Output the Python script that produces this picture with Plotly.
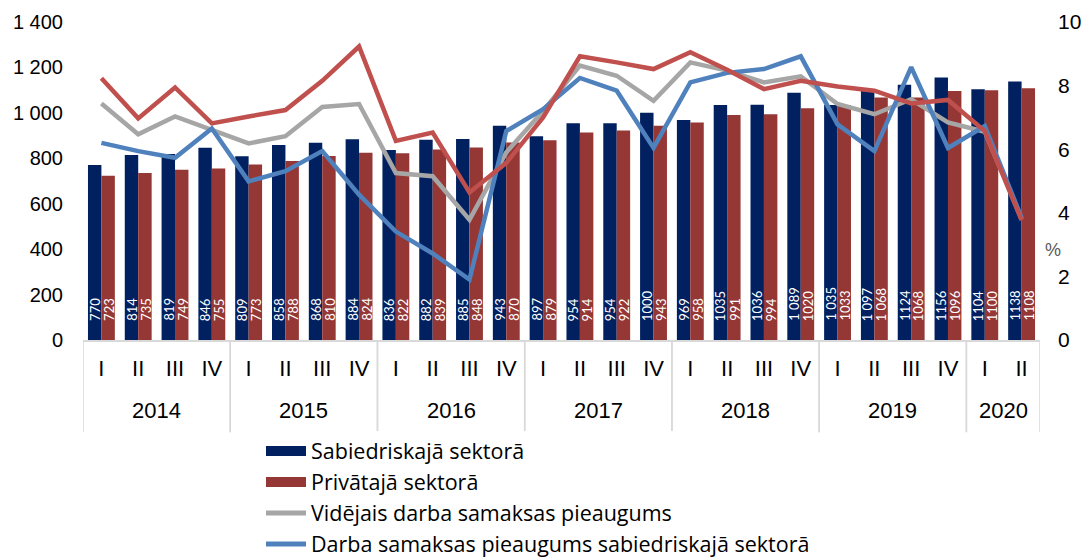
import plotly.graph_objects as go

years = ["2014"]*4 + ["2015"]*4 + ["2016"]*4 + ["2017"]*4 + ["2018"]*4 + ["2019"]*4 + ["2020"]*2
quarters = ["I", "II", "III", "IV"]*6 + ["I", "II"]

public_wage = [770, 814, 819, 846, 809, 858, 868, 884, 836, 882, 885, 943, 897, 954, 954, 1000,
               969, 1035, 1036, 1089, 1035, 1097, 1124, 1156, 1104, 1138]
private_wage = [723, 735, 749, 755, 773, 788, 810, 824, 822, 839, 848, 870, 879, 914, 922, 943,
                958, 991, 994, 1020, 1033, 1068, 1068, 1096, 1100, 1108]
public_labels = ["770", "814", "819", "846", "809", "858", "868", "884", "836", "882", "885", "943",
                 "897", "954", "954", "1000", "969", "1035", "1036", "1 089", "1 035", "1 097",
                 "1124", "1156", "1104", "1138"]
private_labels = ["723", "735", "749", "755", "773", "788", "810", "824", "822", "839", "848", "870",
                  "879", "914", "922", "943", "958", "991", "994", "1020", "1033", "1 068",
                  "1068", "1096", "1100", "1108"]

avg_growth = [7.44, 6.47, 7.03, 6.62, 6.18, 6.41, 7.33, 7.42, 5.25, 5.15, 3.78, 5.9, 7.2, 8.63,
              8.31, 7.52, 8.73, 8.47, 8.1, 8.29, 7.42, 7.1, 7.57, 6.84, 6.55, 3.8]
public_growth = [6.2, 5.94, 5.73, 6.65, 4.99, 5.31, 5.94, 4.57, 3.41, 2.72, 1.9, 6.57, 7.26, 8.24,
                 7.84, 6.04, 8.1, 8.4, 8.52, 8.92, 6.78, 5.94, 8.58, 6.04, 6.73, 3.84]
private_growth = [8.23, 6.97, 7.94, 6.81, 7.03, 7.23, 8.15, 9.23, 6.26, 6.52, 4.64, 5.57, 7.0, 8.92,
                  8.73, 8.52, 9.05, 8.5, 7.89, 8.15, 7.97, 7.84, 7.44, 7.55, 6.57, 3.77]

left_ticks = [0, 200, 400, 600, 800, 1000, 1200, 1400]
left_ticktext = ["0", "200", "400", "600", "800", "1 000", "1 200", "1 400"]
right_ticks = [0, 2, 4, 6, 8, 10]

NAVY = "#002060"
DRED = "#953735"
RED = "#c0504d"
GREY = "#a6a6a6"
BLUE = "#4f81bd"
AXISGREY = "#d9d9d9"

idx = list(range(len(quarters)))

fig = go.Figure()
fig.add_trace(go.Bar(x=idx, y=public_wage, name="Sabiedriskajā sektorā", marker_color=NAVY,
                     marker_line_width=0, showlegend=False))
fig.add_trace(go.Bar(x=idx, y=private_wage, name="Privātajā sektorā", marker_color=DRED,
                     marker_line_width=0, showlegend=False))
fig.add_trace(go.Scatter(x=idx, y=avg_growth, name="Vidējais darba samaksas pieaugums",
                         mode="lines", line=dict(color=GREY, width=4.5), yaxis="y2",
                         showlegend=False))
fig.add_trace(go.Scatter(x=idx, y=public_growth, name="Darba samaksas pieaugums sabiedriskajā sektorā",
                         mode="lines", line=dict(color=BLUE, width=4.5), yaxis="y2",
                         showlegend=False))
fig.add_trace(go.Scatter(x=idx, y=private_growth, name="Darba samaksas pieaugums privātajā sektorā",
                         mode="lines", line=dict(color=RED, width=4.5), yaxis="y2",
                         showlegend=False))

legend_items = [("Sabiedriskajā sektorā", NAVY, 14),
                ("Privātajā sektorā", DRED, 14),
                ("Vidējais darba samaksas pieaugums", GREY, 5),
                ("Darba samaksas pieaugums sabiedriskajā sektorā", BLUE, 5)]
for name, col, w in legend_items:
    fig.add_trace(go.Scatter(x=[None], y=[None], mode="lines", name=name,
                             line=dict(color=col, width=w), showlegend=True))

annotations = []
for i in idx:
    for lab, shift in ((public_labels[i], -7), (private_labels[i], 7)):
        annotations.append(dict(x=i, y=0, xref="x", yref="y", text=lab, textangle=-90,
                                showarrow=False, xanchor="center", yanchor="bottom",
                                xshift=shift, yshift=17,
                                font=dict(family="Lato", size=13, color="white")))

# year group labels and dividers
shapes = []
groups = []
for i, yv in enumerate(years):
    if not groups or groups[-1][0] != yv:
        groups.append([yv, i, i])
    else:
        groups[-1][2] = i
for yv, s, e in groups:
    annotations.append(dict(x=(s + e) / 2, y=-0.223, xref="x", yref="paper", text=yv,
                            showarrow=False, xanchor="center", yanchor="middle",
                            font=dict(family="Liberation Sans", size=22, color="black")))
    for b in (s - 0.5, e + 0.5):
        shapes.append(dict(type="line", xref="x", yref="paper", x0=b, x1=b, y0=0, y1=-0.29,
                           line=dict(color=AXISGREY, width=1.5)))

annotations.append(dict(x=1.003, y=0.283, xref="paper", yref="paper", text="%", showarrow=False,
                        xanchor="left", yanchor="middle",
                        font=dict(family="Liberation Sans", size=18, color="#595959")))

fig.update_layout(
    width=1083, height=551,
    margin=dict(l=75, r=51, t=14, b=219, autoexpand=False),
    paper_bgcolor="white", plot_bgcolor="white",
    barmode="group", bargap=0.27, bargroupgap=0,
    font=dict(family="Liberation Sans", size=20, color="black"),
    xaxis=dict(range=[-0.5, len(idx) - 0.5], tickvals=idx, ticktext=quarters, showline=True,
               linecolor=AXISGREY, linewidth=1.5, showgrid=False, zeroline=False,
               tickfont=dict(size=22), ticks="", ticklabelstandoff=8),
    yaxis=dict(range=[0, 1400], tickvals=left_ticks, ticktext=left_ticktext, showgrid=False,
               zeroline=False, ticks="", tickfont=dict(size=20), ticklabelstandoff=19),
    yaxis2=dict(range=[0, 10], tickvals=right_ticks, overlaying="y", side="right", showgrid=False,
                zeroline=False, ticks="", tickfont=dict(size=21), ticklabelstandoff=17),
    legend=dict(orientation="v", x=0.186, y=-0.285, xanchor="left", yanchor="top",
                font=dict(family="Open Sans", size=21.5), traceorder="normal", itemwidth=40,
                tracegroupgap=0),
    annotations=annotations,
    shapes=shapes,
)

fig.write_html("out.html")
